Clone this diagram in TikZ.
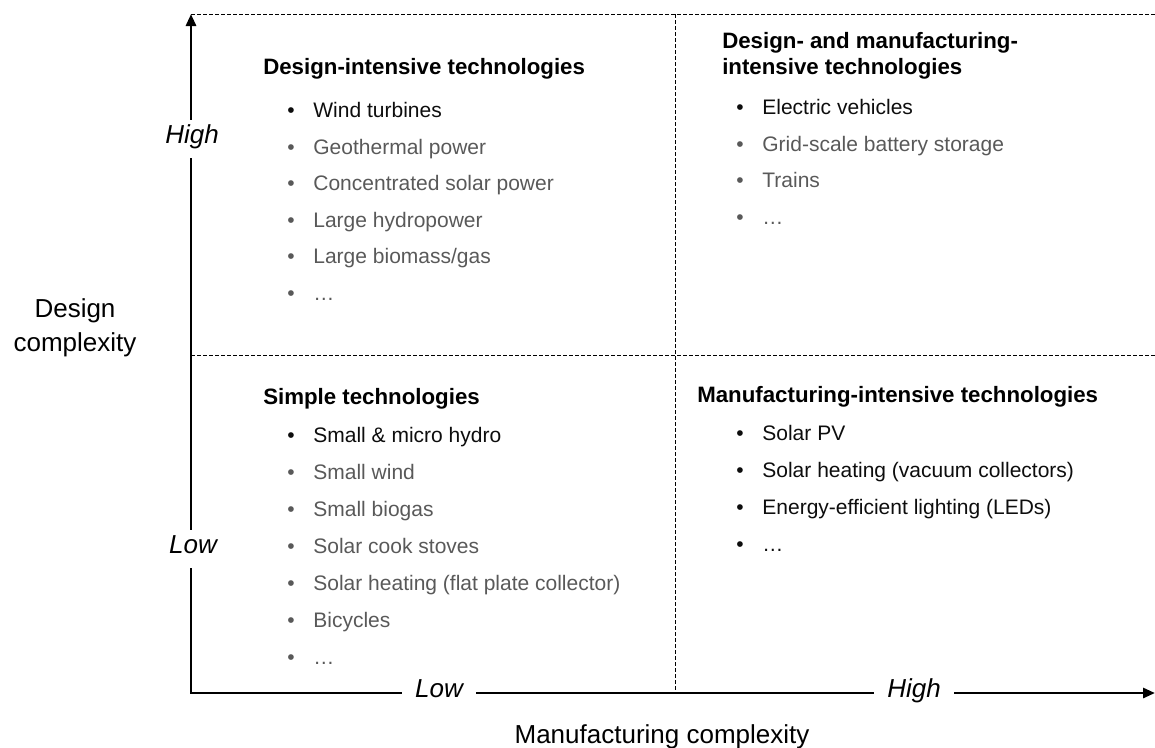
\documentclass[tikz,border=0pt]{standalone}
\usepackage{fontspec}
\setmainfont{Liberation Sans}
\usetikzlibrary{arrows.meta}
\definecolor{txtgrey}{HTML}{595959}
\definecolor{txtblack}{HTML}{0D0D0D}
\newcommand\bul{\makebox[19.6pt][l]{•}}
\begin{document}
\begin{tikzpicture}[x=0.75pt,y=-0.75pt,
  axisline/.style={line width=2.1pt, line join=miter, {Triangle[length=9pt,width=7.5pt]}-{Triangle[length=9pt,width=7.5pt]}},
  gridline/.style={line width=0.7pt, dash pattern=on 3pt off 1.5pt},
  head/.style={anchor=mid west, font=\bfseries\fontsize{16.7}{20}\selectfont, inner sep=0pt, text=black},
  itemblk/.style={anchor=mid west, font=\fontsize{15.75}{19}\selectfont, inner sep=0pt, text=txtblack},
  itemgry/.style={itemblk, text=txtgrey},
  axlbl/.style={font=\itshape\fontsize{19.5}{23}\selectfont, fill=white, text height=0.72em, text depth=0pt, inner xsep=10pt, inner ysep=10.5pt},
  title/.style={font=\fontsize{19.5}{25.5}\selectfont, align=center, inner sep=0pt}]
\useasboundingbox (0,0) rectangle (1155,747);
% frame coordinates
\coordinate (O) at (191,693);
\coordinate (T) at (191,14);
\coordinate (R) at (1155,693);
\coordinate (TR) at (1155,14);
\coordinate (ML) at (191,355);
\coordinate (MR) at (1155,355);
\coordinate (VT) at (675,14);
\coordinate (VB) at (675,693);
% dashed grid
\draw[gridline] (T) -- (TR);
\draw[gridline] (ML) -- (MR);
\draw[gridline] (VT) -- (VB);
% axes
\draw[axisline] (T) -- (O) -- (R);
% axis labels
\node[axlbl] (yhigh) at (192,139) {High};
\node[axlbl] (ylow) at (193,549) {Low};
\node[axlbl] (xlow) at (439,693) {Low};
\node[axlbl] (xhigh) at (914,693) {High};
\node[title] (ytitle) at (75,328) {Design\\complexity};
\node[title] (xtitle) at (662,737) {Manufacturing complexity};
% top-left quadrant
\node[head] (tlh) at (263,71) {Design-intensive technologies};
\node[itemblk] (tl1) at (287,114) {\bul Wind turbines};
\node[itemgry] (tl2) at (287,150.6) {\bul Geothermal power};
\node[itemgry] (tl3) at (287,187.2) {\bul Concentrated solar power};
\node[itemgry] (tl4) at (287,223.8) {\bul Large hydropower};
\node[itemgry] (tl5) at (287,260.4) {\bul Large biomass/gas};
\node[itemgry] (tl6) at (287,297) {\bul …};
% top-right quadrant
\node[head] (trh1) at (722,45) {Design- and manufacturing-};
\node[head] (trh2) at (722,71) {intensive technologies};
\node[itemblk] (tr1) at (736,111) {\bul Electric vehicles};
\node[itemgry] (tr2) at (736,147.5) {\bul Grid-scale battery storage};
\node[itemgry] (tr3) at (736,184) {\bul Trains};
\node[itemgry] (tr4) at (736,220.5) {\bul …};
% bottom-left quadrant
\node[head] (blh) at (263,401) {Simple technologies};
\node[itemblk] (bl1) at (287,439) {\bul Small \& micro hydro};
\node[itemgry] (bl2) at (287,476) {\bul Small wind};
\node[itemgry] (bl3) at (287,513) {\bul Small biogas};
\node[itemgry] (bl4) at (287,550) {\bul Solar cook stoves};
\node[itemgry] (bl5) at (287,587) {\bul Solar heating (flat plate collector)};
\node[itemgry] (bl6) at (287,624) {\bul Bicycles};
\node[itemgry] (bl7) at (287,661) {\bul …};
% bottom-right quadrant
\node[head] (brh) at (697,399) {Manufacturing-intensive technologies};
\node[itemblk] (br1) at (736,437) {\bul Solar PV};
\node[itemblk] (br2) at (736,474) {\bul Solar heating (vacuum collectors)};
\node[itemblk] (br3) at (736,511) {\bul Energy-efficient lighting (LEDs)};
\node[itemblk] (br4) at (736,548) {\bul …};
\end{tikzpicture}
\end{document}
